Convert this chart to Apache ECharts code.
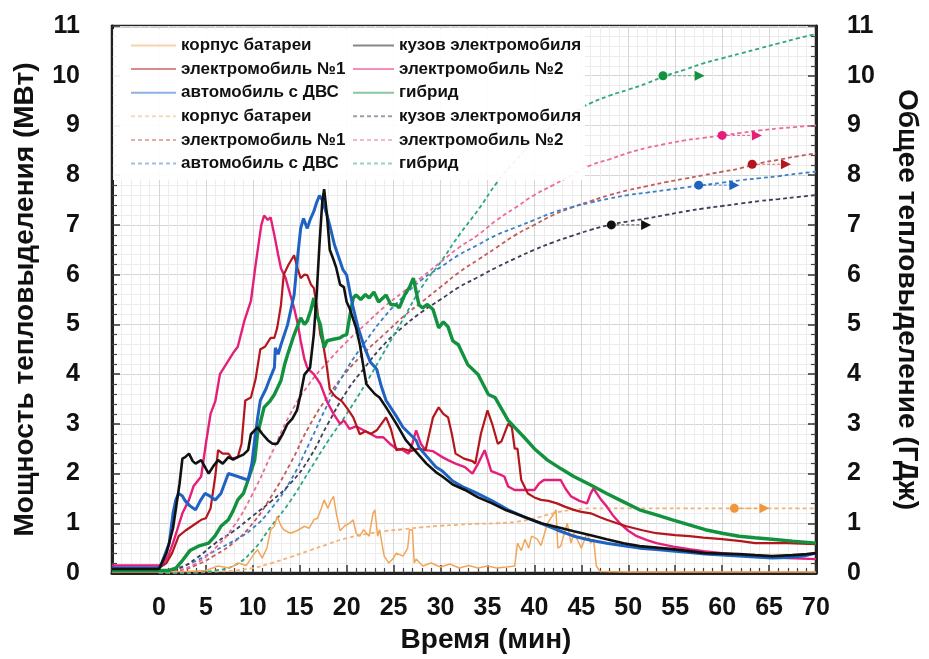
<!DOCTYPE html>
<html>
<head>
<meta charset="utf-8">
<script src="https://cdn.jsdelivr.net/npm/echarts@6/dist/echarts.min.js"></script>
<style>html,body{margin:0;padding:0;background:#fff}#c{width:929px;height:659px}</style>
</head>
<body>
<div id="c"></div>
<script>
// ---------- DATA ----------
const seriesNames = ['корпус батареи','электромобиль №1','автомобиль с ДВС','кузов электромобиля','электромобиль №2','гибрид'];
const xAxisTitle = 'Время (мин)';
const yLeftTitle = 'Мощность тепловыделения (МВт)';
const yRightTitle = 'Общее тепловыделение (ГДж)';

// Heat release rate, MW  [time min, value]
const hrrBattery = [[-5,0.02],[0,0.02],[3,0.03],[5,0.05],[6.3,0.14],[7.5,0.1],[8.5,0.2],[9.3,0.15],[10,0.35],[10.5,0.47],[11,0.3],[11.5,0.5],[11.9,0.87],[12.3,0.94],[12.6,1.14],[13,0.95],[13.3,0.87],[14,0.8],[14.7,0.85],[15.5,0.94],[16,0.9],[16.5,1.07],[16.9,1.1],[17.3,1.3],[17.6,1.47],[18,1.3],[18.3,1.45],[18.6,1.54],[18.9,1.2],[19.3,0.85],[19.8,0.95],[20.3,1.0],[20.7,1.07],[21,0.8],[21.4,0.74],[21.8,0.87],[22.4,0.74],[22.8,1.2],[23,1.27],[23.3,0.74],[23.5,0.87],[24,0.34],[24.5,0.2],[24.9,0.28],[25.3,0.4],[26,0.34],[26.5,0.5],[26.7,0.87],[27,0.87],[27.2,0.2],[27.4,0.28],[28.1,0.14],[29,0.2],[30,0.12],[31,0.18],[32,0.1],[33,0.15],[34,0.1],[35,0.14],[36,0.1],[37,0.12],[37.9,0.14],[38.2,0.6],[38.6,0.45],[39,0.68],[39.4,0.5],[39.7,0.74],[40.3,0.68],[40.7,0.55],[41.4,1.0],[42.1,1.2],[42.3,1.27],[42.5,0.5],[42.8,0.54],[43.2,0.8],[43.5,1.0],[43.9,0.6],[44.2,0.8],[44.5,0.7],[45,0.5],[45.6,0.8],[46,0.6],[46.3,0.68],[46.6,0.14],[47,0.03],[50,0.02],[70,0.02]];
const hrrEv1 = [[-5,0.1],[0,0.1],[0.8,0.2],[1.4,0.4],[2.1,0.74],[2.8,0.85],[3.5,0.94],[4.5,1.07],[5,1.1],[5.5,1.3],[6,1.94],[6.3,2.47],[6.8,2.4],[7.4,2.4],[7.8,2.3],[8.4,2.33],[8.8,2.6],[9.2,3.47],[9.8,3.53],[10.3,3.9],[10.8,4.5],[11.3,4.55],[11.9,4.73],[12.3,4.73],[12.6,4.93],[13,5.39],[13.3,6.0],[13.8,6.2],[14.4,6.39],[14.8,6.1],[15.1,5.93],[15.5,6.0],[15.8,5.99],[16.2,5.8],[16.5,5.73],[16.8,5.39],[17.2,4.79],[17.5,4.6],[17.9,4.13],[18.2,3.7],[18.6,3.59],[18.9,3.53],[19.5,3.45],[20.1,3.3],[20.7,3.13],[21.4,2.79],[22,2.85],[22.6,2.8],[23.2,2.87],[23.7,3.0],[24.2,3.13],[24.7,2.9],[25.3,2.47],[26,2.5],[26.8,2.45],[27.6,2.5],[28.4,2.47],[28.8,2.8],[29.2,3.13],[29.8,3.33],[30.3,3.2],[30.8,3.13],[31.2,2.8],[31.6,2.4],[32.5,2.3],[33.4,2.25],[33.7,2.2],[34.3,2.8],[35,3.27],[35.5,3.0],[36.1,2.6],[36.5,2.65],[37.2,3.0],[37.6,2.93],[37.9,2.5],[38.2,2.5],[38.6,1.87],[39.3,1.6],[40,1.52],[40.7,1.47],[41.5,1.45],[42.4,1.4],[43.3,1.33],[44.2,1.27],[45,1.23],[46,1.2],[47,1.12],[47.7,1.07],[48.8,1.0],[49.8,0.94],[51.5,0.86],[53,0.8],[55,0.76],[56.5,0.74],[58,0.71],[60,0.68],[62,0.64],[63.5,0.6],[65,0.6],[67,0.6],[68.5,0.59],[70,0.58]];
const hrrIce = [[-5,0.1],[0,0.1],[0.2,0.15],[0.6,0.35],[1.1,0.6],[1.5,1.2],[1.8,1.47],[2.1,1.6],[2.5,1.55],[2.8,1.45],[3.3,1.35],[3.9,1.27],[4.4,1.45],[4.9,1.6],[5.4,1.55],[6,1.47],[6.6,1.6],[7.4,2.0],[7.9,1.97],[8.4,1.94],[9,1.9],[9.5,1.87],[9.9,2.2],[10.2,2.67],[10.5,3.1],[10.8,3.47],[11.4,3.7],[11.8,3.9],[12.3,4.13],[12.4,4.53],[12.7,4.4],[13,4.59],[13.7,4.99],[14.4,5.59],[14.8,6.4],[15.1,6.93],[15.4,7.13],[15.8,6.93],[16.1,7.1],[16.5,7.27],[16.8,7.45],[17.1,7.59],[17.4,7.5],[17.6,7.46],[17.9,7.2],[18.2,6.99],[18.7,6.6],[19.3,6.27],[19.6,6.1],[20,5.99],[20.4,5.6],[20.7,5.33],[21.2,4.95],[21.8,4.59],[22.5,4.25],[23.2,4.1],[23.7,3.75],[24.2,3.47],[25.3,3.15],[26,2.93],[27.4,2.67],[27.7,2.53],[28.5,2.35],[29.5,2.13],[30.2,2.05],[31.3,1.85],[32.5,1.72],[33.7,1.62],[35.5,1.45],[37.2,1.27],[39,1.12],[40.7,1.0],[42.5,0.86],[44.2,0.74],[46,0.66],[47.7,0.6],[49.5,0.55],[51.2,0.5],[53,0.47],[54.7,0.44],[56.5,0.41],[58.2,0.38],[60,0.36],[61.8,0.34],[63.5,0.32],[65.3,0.3],[67,0.31],[68.7,0.34],[70,0.4]];
const hrrBody = [[-5,0.08],[0,0.08],[0.2,0.12],[0.8,0.4],[1.5,0.9],[2.2,1.8],[2.5,2.3],[2.8,2.33],[3.2,2.4],[3.6,2.25],[3.9,2.2],[4.5,2.27],[5,2.1],[5.3,2.0],[5.8,2.15],[6.3,2.27],[6.8,2.2],[7.4,2.33],[7.9,2.28],[8.4,2.33],[9,2.38],[9.5,2.47],[9.8,2.79],[10.5,2.93],[11,2.8],[11.6,2.67],[12.1,2.6],[12.6,2.6],[13.2,2.8],[13.7,3.0],[14.2,3.1],[14.7,3.27],[15.1,3.6],[15.5,3.99],[16.1,4.13],[16.5,4.8],[16.8,5.59],[17.1,6.6],[17.4,7.46],[17.6,7.72],[17.9,7.2],[18.2,6.5],[18.6,6.3],[18.9,6.13],[19.3,5.8],[19.7,5.75],[20,5.45],[20.3,5.33],[21,4.93],[21.4,4.6],[21.8,4.13],[22.1,3.8],[22.4,3.73],[23,3.6],[23.5,3.53],[24.2,3.33],[24.8,3.15],[25.3,3.0],[26.3,2.67],[27.7,2.37],[28.5,2.2],[29.5,2.03],[30.2,1.94],[31.3,1.78],[32.6,1.67],[34,1.52],[35.5,1.4],[37,1.26],[37.9,1.2],[39.3,1.1],[40.7,1.0],[42.5,0.92],[44.2,0.84],[46,0.76],[47.7,0.68],[49.5,0.6],[51.2,0.54],[53,0.51],[54.7,0.48],[56.5,0.44],[58.2,0.4],[60,0.39],[61.8,0.38],[63.5,0.36],[65.3,0.34],[67.5,0.36],[69,0.38],[70,0.4]];
const hrrEv2 = [[-5,0.15],[0,0.15],[0.5,0.2],[1,0.35],[1.5,0.6],[2,0.9],[2.5,1.2],[3.2,1.47],[3.7,1.75],[4.5,1.94],[5,2.6],[5.5,3.2],[6,3.45],[6.5,4.0],[7,4.15],[7.4,4.27],[8,4.45],[8.4,4.55],[9.1,5.07],[9.5,5.3],[9.8,5.47],[10.3,6.2],[10.9,6.99],[11.2,7.19],[11.6,7.1],[11.9,7.15],[12.3,6.79],[12.7,6.4],[13,6.13],[13.5,5.93],[14,5.59],[14.4,5.33],[14.8,5.0],[15.1,4.67],[15.5,4.3],[15.8,4.13],[16.2,4.05],[16.5,4.0],[17.2,3.8],[17.9,3.45],[18.6,3.2],[19.3,3.0],[19.7,3.07],[20.3,2.9],[21,2.95],[21.8,2.87],[22.5,2.8],[23.2,2.73],[23.9,2.73],[24.6,2.6],[25.3,2.5],[26,2.47],[26.6,2.4],[27,2.6],[27.4,2.87],[27.9,2.6],[28.4,2.47],[29.2,2.45],[30.2,2.33],[30.8,2.27],[31.6,2.2],[32.6,2.13],[33.4,2.0],[34,2.2],[34.7,2.47],[35.4,2.05],[36.1,2.0],[36.8,1.94],[37.2,1.74],[37.9,1.67],[39,1.67],[40,1.67],[40.5,1.8],[41,1.87],[42,1.87],[42.8,1.87],[43.3,1.7],[43.9,1.54],[44.8,1.45],[45.6,1.4],[46,1.6],[46.3,1.7],[47,1.5],[47.7,1.34],[48.4,1.15],[49.1,1.0],[50,0.85],[50.9,0.74],[52,0.66],[53,0.6],[54.8,0.53],[56.5,0.48],[58,0.44],[60,0.4],[61.8,0.37],[63.5,0.34],[65,0.32],[67,0.3],[68.5,0.29],[70,0.28]];
const hrrHybrid = [[-5,0.05],[0,0.05],[1,0.05],[1.8,0.1],[2.5,0.25],[3.3,0.45],[4.2,0.54],[5.3,0.6],[6,0.75],[6.6,0.94],[7.4,1.07],[7.9,1.25],[8.4,1.47],[9,1.6],[9.5,1.87],[10.2,2.27],[10.5,2.79],[11.2,3.33],[11.8,3.45],[12.3,3.59],[13,3.87],[13.4,4.2],[13.7,4.39],[14.4,4.79],[15.1,5.13],[15.5,5.0],[15.8,5.07],[16.2,5.3],[16.5,5.53],[16.8,5.2],[17.2,4.99],[17.6,4.53],[17.9,4.67],[18.6,4.7],[19.3,4.73],[19.7,4.78],[20,4.79],[20.3,5.13],[20.7,5.53],[21,5.59],[21.5,5.5],[22,5.6],[22.4,5.53],[22.9,5.65],[23.4,5.45],[24.2,5.59],[24.7,5.4],[25.3,5.39],[25.6,5.33],[26.2,5.6],[26.7,5.75],[27.1,5.93],[27.7,5.39],[28.1,5.33],[28.6,5.4],[29.2,5.3],[29.8,4.93],[30.3,5.05],[30.8,4.95],[31.3,4.67],[31.9,4.59],[32.9,4.19],[34,3.99],[35.1,3.59],[35.8,3.53],[37.2,3.07],[38.9,2.73],[40,2.5],[41.4,2.27],[42.8,2.1],[44.2,1.94],[46,1.77],[47.7,1.6],[49.5,1.43],[51.2,1.27],[53,1.17],[54.7,1.07],[56.5,0.97],[58.2,0.87],[60,0.8],[61.8,0.74],[63.5,0.71],[65.3,0.68],[67.5,0.64],[70,0.6]];

// Total heat release, GJ  (sampled every 2 min from 0 to 70)
const thrTime = [0,2,4,6,8,10,12,14,16,18,20,22,24,26,28,30,32,34,36,38,40,42,44,46,48,50,52,54,56,58,60,62,64,66,68,70];
const thrBattery = [0,0,0.01,0.03,0.05,0.1,0.2,0.32,0.45,0.58,0.7,0.78,0.84,0.88,0.92,0.95,0.97,0.99,1.0,1.03,1.1,1.2,1.27,1.3,1.3,1.3,1.3,1.3,1.3,1.3,1.3,1.3,1.3,1.3,1.3,1.3];
const thrEv1 = [0,0.04,0.16,0.36,0.62,1.0,1.55,2.2,2.95,3.55,4.05,4.45,4.8,5.15,5.45,5.75,6.05,6.3,6.55,6.8,7.0,7.2,7.35,7.48,7.6,7.7,7.78,7.86,7.93,8.0,8.07,8.14,8.24,8.31,8.38,8.44];
const thrIce = [0,0.1,0.25,0.45,0.65,0.9,1.3,1.85,2.6,3.4,4.1,4.65,5.15,5.55,5.9,6.15,6.4,6.6,6.8,6.95,7.1,7.25,7.36,7.45,7.53,7.6,7.65,7.7,7.75,7.8,7.85,7.9,7.94,7.98,8.03,8.07];
const thrBody = [0,0.08,0.3,0.6,0.85,1.15,1.45,1.8,2.3,3.0,3.65,4.15,4.6,4.95,5.25,5.5,5.75,5.95,6.15,6.33,6.5,6.65,6.78,6.9,7.0,7.07,7.13,7.2,7.27,7.33,7.38,7.43,7.48,7.52,7.56,7.6];
const thrEv2 = [0,0.05,0.2,0.5,0.95,1.6,2.4,3.2,3.8,4.25,4.65,5.0,5.35,5.65,5.95,6.25,6.55,6.8,7.1,7.35,7.6,7.8,8.0,8.2,8.32,8.45,8.55,8.63,8.7,8.75,8.8,8.85,8.9,8.94,8.97,9.0];
const thrHybrid = [0,0,0.02,0.05,0.15,0.45,0.95,1.45,2.05,2.65,3.2,3.8,4.45,5.1,5.75,6.25,6.8,7.3,7.85,8.3,8.7,9.0,9.25,9.45,9.6,9.72,9.85,10.0,10.12,10.25,10.35,10.45,10.55,10.65,10.75,10.84];

// Arrow markers on the total-heat curves: [circle time, arrow time, value]
const markBattery = [61.3, 64.5, 1.3];
const markEv1 = [63.2, 66.8, 8.22];
const markIce = [57.5, 61.3, 7.8];
const markBody = [48.2, 51.9, 7.0];
const markEv2 = [60.0, 63.7, 8.8];
const markHybrid = [53.7, 57.6, 10.0];

// ---------- STYLE ----------
const solidColors = ['#f2a65a','#b3161d','#1f63c2','#111111','#e51f79','#12913f'];
const solidWidths = [1.5, 2.2, 3, 2.6, 2.4, 3.4];
const dashColors  = ['#f2b27a','#c45a5a','#3d7fc4','#3e3e5a','#ec6c98','#2ea584'];

const hrrSets = [hrrBattery, hrrEv1, hrrIce, hrrBody, hrrEv2, hrrHybrid];
const thrSets = [thrBattery, thrEv1, thrIce, thrBody, thrEv2, thrHybrid];
const markSets = [markBattery, markEv1, markIce, markBody, markEv2, markHybrid];

const series = [];
seriesNames.forEach((n, i) => {
  series.push({
    name: n + '#thr', type: 'line', yAxisIndex: 1, symbol: 'none', showSymbol: false, smooth: true,
    data: thrTime.map((t, k) => [t, thrSets[i][k]]),
    lineStyle: { color: dashColors[i], width: 1.8, type: [4, 3] },
    itemStyle: { color: dashColors[i] }, z: 3
  });
});
[0, 4, 1, 5, 2, 3].forEach(i => {
  series.push({
    name: seriesNames[i] + '#hrr', type: 'line', yAxisIndex: 0, symbol: 'none', showSymbol: false,
    data: hrrSets[i],
    lineStyle: { color: solidColors[i], width: solidWidths[i] },
    itemStyle: { color: solidColors[i] }, z: 4
  });
});
seriesNames.forEach((n, i) => {
  const m = markSets[i];
  const c = i === 0 ? '#f0963c' : solidColors[i];
  series.push({
    name: n + '#mark', type: 'line', yAxisIndex: 1,
    data: [
      { value: [m[0], m[2]], symbol: 'circle', symbolSize: 9 },
      { value: [m[1], m[2]], symbol: 'triangle', symbolSize: 10, symbolRotate: -90 }
    ],
    showSymbol: true,
    lineStyle: { color: c, width: 1.2, type: [3, 2], opacity: 0.6 },
    itemStyle: { color: c }, z: 5, silent: true
  });
});

const fmt = n => n.split('#')[0];
const legendCommon = {
  orient: 'vertical', itemHeight: 14, itemGap: 6.6, top: 29,
  backgroundColor: 'rgba(255,255,255,0.92)',
  textStyle: { fontFamily: 'Liberation Sans, Arial, sans-serif', fontWeight: 'bold', fontSize: 17, color: '#111', lineHeight: 16 },
  lineStyle: { opacity: 0.5 },
  itemStyle: { opacity: 0 },
  formatter: fmt, selectedMode: false, z: 10
};

const axisLabelFont = { fontFamily: 'Liberation Sans, Arial, sans-serif', fontWeight: 'bold', fontSize: 25, color: '#111' };
const nameFont = { fontFamily: 'Liberation Sans, Arial, sans-serif', fontWeight: 'bold', fontSize: 28, color: '#111' };

const yCommon = {
  type: 'value', min: 0, max: 11, interval: 1,
  axisLine: { show: true, onZero: false, lineStyle: { color: '#222', width: 3 } },
  axisTick: { show: true, inside: true, length: 8, lineStyle: { color: '#333', width: 1.5 } },
  minorTick: { show: true, splitNumber: 5, length: 5, lineStyle: { color: '#444', width: 1.2 } },
  nameLocation: 'middle', nameTextStyle: nameFont
};

const option = {
  animation: false,
  backgroundColor: '#fff',
  grid: { left: 112, right: 102, top: 26, bottom: 82, show: true, borderColor: '#222', borderWidth: 2.5, backgroundColor: 'transparent' },
  legend: [
    Object.assign({}, legendCommon, { left: 113, padding: [8, 4, 8, 17], itemWidth: 45,
      data: ['корпус батареи#hrr','электромобиль №1#hrr','автомобиль с ДВС#hrr','корпус батареи#thr','электромобиль №1#thr','автомобиль с ДВС#thr'] }),
    Object.assign({}, legendCommon, { left: 348, padding: [8, 4, 8, 4], itemWidth: 41,
      data: ['кузов электромобиля#hrr','электромобиль №2#hrr','гибрид#hrr','кузов электромобиля#thr','электромобиль №2#thr','гибрид#thr'] })
  ],
  xAxis: {
    type: 'value', min: -5, max: 70, interval: 5,
    name: xAxisTitle, nameLocation: 'middle', nameGap: 53,
    nameTextStyle: Object.assign({}, nameFont, { padding: [0, 0, 0, 44] }),
    axisLine: { show: true, onZero: false, lineStyle: { color: '#222', width: 3 } },
    axisTick: { show: true, inside: true, length: 8, lineStyle: { color: '#333', width: 1.5 } },
    minorTick: { show: true, splitNumber: 5, length: 5, lineStyle: { color: '#444', width: 1.2 } },
    axisLabel: Object.assign({}, axisLabelFont, { margin: 23, formatter: v => (v < 0 ? '' : String(v)) }),
    splitLine: { show: true, lineStyle: { color: '#d6d6d6', width: 1 } },
    minorSplitLine: { show: true, lineStyle: { color: '#ececec', width: 1 } }
  },
  yAxis: [
    Object.assign({}, yCommon, {
      position: 'left', name: yLeftTitle, nameGap: 73, nameRotate: 90,
      axisLabel: Object.assign({}, axisLabelFont, { margin: 32 }),
      splitLine: { show: true, lineStyle: { color: '#d6d6d6', width: 1 } },
      minorSplitLine: { show: true, lineStyle: { color: '#ececec', width: 1 } }
    }),
    Object.assign({}, yCommon, {
      position: 'right', name: yRightTitle, nameGap: 77, nameRotate: -90,
      axisLabel: Object.assign({}, axisLabelFont, { margin: 31 }),
      splitLine: { show: false }, minorSplitLine: { show: false }
    })
  ],
  series: series
};

const chart = echarts.init(document.getElementById('c'), null, { renderer: 'canvas' });
chart.setOption(option);
</script>
</body>
</html>
